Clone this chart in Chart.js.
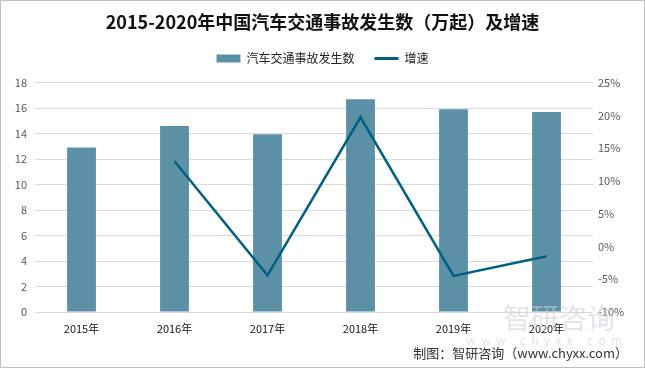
<!DOCTYPE html>
<html>
<head>
<meta charset="utf-8">
<script src="https://cdn.jsdelivr.net/npm/chart.js@4/dist/chart.umd.min.js"></script>
<style>
  body { margin: 0; background: #fff; }
  #wrap { width: 645px; height: 368px; }
</style>
</head>
<body>
<div id="wrap"><canvas id="accidentChart" width="645" height="368"></canvas></div>
<script>
const years = ['2015年', '2016年', '2017年', '2018年', '2019年', '2020年'];
const accidents = [12.9, 14.6, 13.95, 16.7, 15.9, 15.7];
const growth = [null, 0.13, -0.044, 0.197, -0.045, -0.015];
const leftTicks = [0, 2, 4, 6, 8, 10, 12, 14, 16, 18];
const rightTicks = [-0.10, -0.05, 0, 0.05, 0.10, 0.15, 0.20, 0.25];

const cjk = '"Noto Sans CJK SC", "Noto Sans", sans-serif';

const frame = {
    id: 'frame',
    beforeLayout(chart) {
        // extra room under the legend
        const lg = chart.legend;
        if (lg && !lg._extraGap) {
            const fit = lg.fit;
            lg.fit = function () {
                fit.call(this);
                this.height += 8;
            };
            lg._extraGap = true;
        }
    },
    afterDraw(chart) {
        const c = chart.ctx;
        c.save();
        // watermark
        c.fillStyle = 'rgba(200, 206, 214, 0.55)';
        c.font = '28px ' + cjk;
        c.textBaseline = 'middle';
        c.textAlign = 'left';
        c.fillText('智研咨询', 503, 318);
        c.font = '12px ' + cjk;
        c.fillText('w  w  w  .  c  h  y  x  x  .  c  o  m', 466, 340);
        // source
        c.fillStyle = '#333';
        c.font = '13px ' + cjk;
        c.textAlign = 'right';
        c.fillText('制图：智研咨询（www.chyxx.com）', 628, 353);
        // border
        c.strokeStyle = '#bfbfbf';
        c.lineWidth = 1;
        c.strokeRect(0.5, 0.5, 644, 367);
        c.restore();
    }
};

new Chart(document.getElementById('accidentChart').getContext('2d'), {
    type: 'bar',
    data: {
        labels: years,
        datasets: [{
            type: 'bar',
            label: '汽车交通事故发生数',
            data: accidents,
            backgroundColor: '#5b90a7',
            barPercentage: 0.31,
            categoryPercentage: 1,
            yAxisID: 'y',
            order: 2
        }, {
            type: 'line',
            label: '增速',
            data: growth,
            borderColor: '#006080',
            backgroundColor: '#006080',
            borderWidth: 2.5,
            pointRadius: 0,
            tension: 0,
            yAxisID: 'y1',
            order: 1
        }]
    },
    options: {
        responsive: false,
        animation: false,
        layout: { padding: { top: 0, left: 0, right: 0, bottom: 0 } },
        plugins: {
            title: {
                display: true,
                text: '2015-2020年中国汽车交通事故发生数（万起）及增速',
                color: '#111',
                font: { family: cjk, size: 18, weight: 'bold' },
                padding: { top: 11, bottom: 0 }
            },
            legend: {
                display: true,
                labels: {
                    color: '#222',
                    font: { family: cjk, size: 12 },
                    usePointStyle: true,
                    pointStyleWidth: 24,
                    boxHeight: 8,
                    padding: 20,
                    generateLabels(chart) {
                        const items = Chart.defaults.plugins.legend.labels.generateLabels(chart);
                        items.sort((a, b) => a.datasetIndex - b.datasetIndex);
                        items[0].pointStyle = 'rect';
                        items[0].lineWidth = 0;
                        items[1].pointStyle = 'line';
                        items[1].lineWidth = 3;
                        return items;
                    }
                }
            },
            tooltip: { enabled: false }
        },
        scales: {
            x: {
                grid: { display: false },
                border: { display: false },
                ticks: { color: '#111', font: { family: cjk, size: 11 }, padding: 2 },
                afterFit(scale) { scale.height = 56; }
            },
            y: {
                position: 'left',
                min: 0,
                max: 18,
                afterBuildTicks(scale) { scale.ticks = leftTicks.map(v => ({ value: v })); },
                grid: { color: '#d9d9d9', drawTicks: false },
                border: { display: false },
                ticks: { color: '#595959', font: { family: cjk, size: 11 }, padding: 8 },
                afterFit(scale) { scale.width = 35; }
            },
            y1: {
                position: 'right',
                min: -0.10,
                max: 0.25,
                afterBuildTicks(scale) { scale.ticks = rightTicks.map(v => ({ value: v })); },
                grid: { display: false, drawTicks: false },
                border: { display: false },
                ticks: {
                    color: '#595959',
                    font: { family: cjk, size: 11 },
                    padding: 5,
                    callback: v => Math.round(v * 100) + '%'
                },
                afterFit(scale) { scale.width = 52; }
            }
        }
    },
    plugins: [frame]
});
</script>
</body>
</html>
